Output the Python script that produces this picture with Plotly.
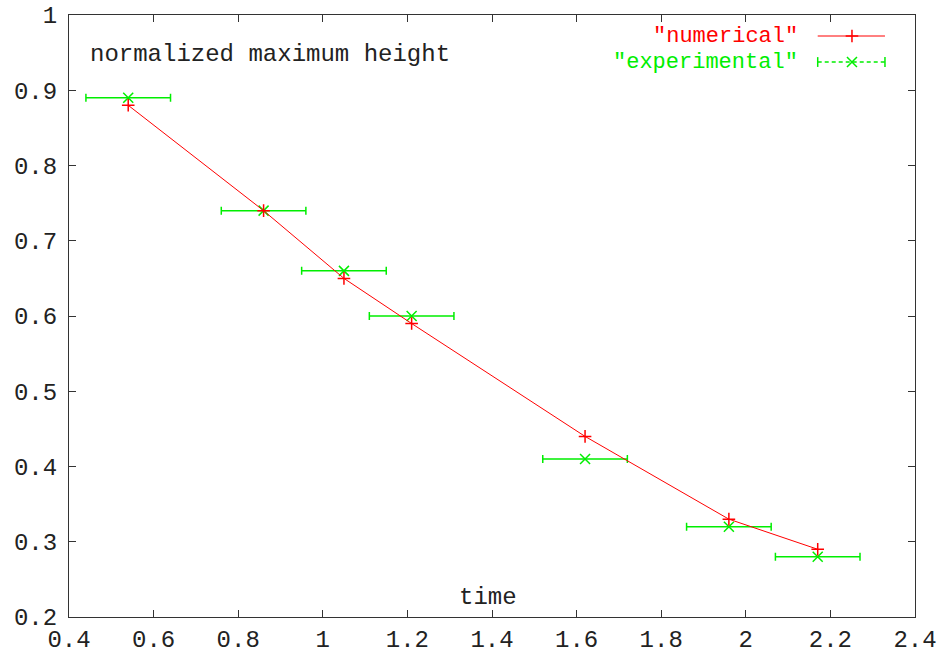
import plotly.graph_objects as go

# Data
time_vals = [0.54, 0.86, 1.05, 1.21, 1.62, 1.96, 2.17]
numerical = [0.88, 0.74, 0.65, 0.59, 0.44, 0.33, 0.29]
experimental = [0.89, 0.74, 0.66, 0.60, 0.41, 0.32, 0.28]
time_err = [0.1, 0.1, 0.1, 0.1, 0.1, 0.1, 0.1]

x_ticks = [0.4, 0.6, 0.8, 1.0, 1.2, 1.4, 1.6, 1.8, 2.0, 2.2, 2.4]
x_tick_text = ["0.4", "0.6", "0.8", "1", "1.2", "1.4", "1.6", "1.8", "2", "2.2", "2.4"]
y_ticks = [0.2, 0.3, 0.4, 0.5, 0.6, 0.7, 0.8, 0.9, 1.0]
y_tick_text = ["0.2", "0.3", "0.4", "0.5", "0.6", "0.7", "0.8", "0.9", "1"]

RED = "#ff0000"
GREEN = "#00ee00"
FONT = "Liberation Mono"
FS = 24
LFS = 22
AXC = "#333333"

fig = go.Figure()

fig.add_trace(go.Scatter(
    x=time_vals, y=experimental, mode="markers",
    marker=dict(symbol="x-thin", size=10, line=dict(color=GREEN, width=1.5)),
    error_x=dict(type="data", array=time_err, color=GREEN, thickness=1.5, width=4),
    showlegend=False, cliponaxis=False,
))
fig.add_trace(go.Scatter(
    x=time_vals, y=numerical, mode="lines+markers",
    line=dict(color=RED, width=1),
    marker=dict(symbol="cross-thin", size=9, line=dict(color=RED, width=1.5)),
    showlegend=False,
))

# Legend samples on an overlay axis (0..1 over the plot area)
lx0, lx1, lxm = 0.885, 0.9645, 0.9255
ly_num, ly_exp = 0.9651, 0.9219
fig.add_trace(go.Scatter(
    x=[lx0, lx1], y=[ly_num, ly_num], mode="lines", line=dict(color=RED, width=1),
    xaxis="x2", yaxis="y2", showlegend=False, hoverinfo="skip"))
fig.add_trace(go.Scatter(
    x=[lxm], y=[ly_num], mode="markers",
    marker=dict(symbol="cross-thin", size=9, line=dict(color=RED, width=1.5)),
    xaxis="x2", yaxis="y2", showlegend=False, hoverinfo="skip"))
fig.add_trace(go.Scatter(
    x=[lx0, lx1], y=[ly_exp, ly_exp], mode="lines+markers",
    line=dict(color=GREEN, width=1.5, dash="4px,3px"),
    marker=dict(symbol="line-ns", size=7, line=dict(color=GREEN, width=1.5)),
    xaxis="x2", yaxis="y2", showlegend=False, hoverinfo="skip"))
fig.add_trace(go.Scatter(
    x=[lxm], y=[ly_exp], mode="markers",
    marker=dict(symbol="x-thin", size=10, line=dict(color=GREEN, width=1.5)),
    xaxis="x2", yaxis="y2", showlegend=False, hoverinfo="skip"))

axis_common = dict(
    showgrid=False, zeroline=False, showline=True, linecolor=AXC, linewidth=1,
    mirror="ticks", ticks="inside", ticklen=7, tickcolor=AXC, tickwidth=1,
    tickfont=dict(family=FONT, size=FS, color="#222222"), automargin=False,
)

fig.update_layout(
    width=941, height=659,
    margin=dict(l=69, r=26, t=15, b=42),
    paper_bgcolor="white", plot_bgcolor="white",
    xaxis=dict(range=[0.4, 2.4], tickvals=x_ticks, ticktext=x_tick_text, **axis_common),
    yaxis=dict(range=[0.2, 1.0], tickvals=y_ticks, ticktext=y_tick_text, ticklabelstandoff=6, **axis_common),
    xaxis2=dict(range=[0, 1], overlaying="x", visible=False),
    yaxis2=dict(range=[0, 1], overlaying="y", visible=False),
    annotations=[
        dict(text='"numerical"', x=0.864, y=ly_num, xref="paper", yref="paper",
             xanchor="right", yanchor="middle", showarrow=False,
             font=dict(family=FONT, size=LFS, color=RED)),
        dict(text='"experimental"', x=0.864, y=ly_exp, xref="paper", yref="paper",
             xanchor="right", yanchor="middle", showarrow=False,
             font=dict(family=FONT, size=LFS, color=GREEN)),
        dict(text="normalized maximum height", x=0.022, y=0.934, xref="paper", yref="paper",
             xanchor="left", yanchor="middle", showarrow=False,
             font=dict(family=FONT, size=FS, color="#222222")),
        dict(text="time", x=0.495, y=0.032, xref="paper", yref="paper",
             xanchor="center", yanchor="middle", showarrow=False,
             font=dict(family=FONT, size=FS, color="#222222")),
    ],
)

fig.write_html("out.html")
